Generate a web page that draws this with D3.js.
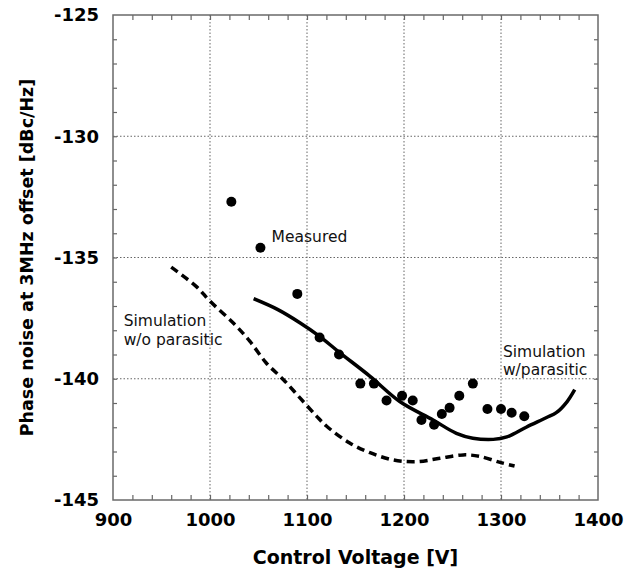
<!DOCTYPE html>
<html>
<head>
<meta charset="utf-8">
<script src="https://cdn.jsdelivr.net/npm/d3@7"></script>
<style>
body { margin: 0; background: #fff; }
</style>
</head>
<body>
<script>
var w = 626;
var h = 571;
var margin = {left: 113, top: 15, right: 28, bottom: 71};

var xTicks = [900, 1000, 1100, 1200, 1300, 1400];
var yTicks = [-125, -130, -135, -140, -145];

var measuredV = [1022, 1052, 1090, 1113, 1133, 1155, 1169, 1182, 1198, 1209, 1218, 1231, 1239, 1247, 1257, 1271, 1286, 1300, 1311, 1324];
var measuredN = [-132.7, -134.6, -136.5, -138.3, -139.0, -140.2, -140.2, -140.9, -140.7, -140.9, -141.7, -141.9, -141.45, -141.2, -140.7, -140.2, -141.25, -141.25, -141.4, -141.55];

var simParV = [1045, 1070, 1093, 1113, 1133, 1165, 1196, 1230, 1254, 1271, 1292, 1306, 1326, 1347, 1357, 1368, 1376];
var simParN = [-136.7, -137.15, -137.7, -138.25, -138.9, -139.9, -140.95, -141.7, -142.25, -142.45, -142.5, -142.4, -142.0, -141.6, -141.4, -140.95, -140.45];

var simNoParV = [960, 986, 1000, 1024, 1041, 1058, 1076, 1093, 1110, 1120, 1144, 1165, 1189, 1213, 1237, 1261, 1278, 1299, 1314];
var simNoParN = [-135.4, -136.2, -136.8, -137.7, -138.45, -139.35, -140.05, -140.8, -141.55, -141.95, -142.65, -143.05, -143.35, -143.42, -143.28, -143.14, -143.2, -143.45, -143.6];

var pw = w - margin.left - margin.right;
var ph = h - margin.top - margin.bottom;
var font = "DejaVu Sans, Verdana, sans-serif";

var svg = d3.select("body")
            .append("svg")
                .attr("width", w)
                .attr("height", h);

var g = svg.append("g")
    .attr("transform", "translate(" + margin.left + "," + margin.top + ")");

var x = d3.scaleLinear().domain([900, 1400]).range([0, pw]);
var y = d3.scaleLinear().domain([-145, -125]).range([ph, 0]);

// grid
g.selectAll("line.vgrid")
    .data(xTicks.slice(1, -1))
    .enter()
    .append("line")
        .attr("x1", function(d) {return x(d);})
        .attr("x2", function(d) {return x(d);})
        .attr("y1", 0)
        .attr("y2", ph)
        .attr("stroke", "#666")
        .attr("stroke-width", 1)
        .attr("stroke-dasharray", "1.5,2");

g.selectAll("line.hgrid")
    .data(yTicks.slice(1, -1))
    .enter()
    .append("line")
        .attr("x1", 0)
        .attr("x2", pw)
        .attr("y1", function(d) {return y(d);})
        .attr("y2", function(d) {return y(d);})
        .attr("stroke", "#666")
        .attr("stroke-width", 1)
        .attr("stroke-dasharray", "1.5,2");

// minor ticks on all four sides
var xMinor = d3.range(920, 1400, 20);
var yMinor = d3.range(-144, -125, 1);

function styleAxis(sel) {
    sel.select(".domain").remove();
    sel.selectAll(".tick line").attr("stroke", "#666").attr("stroke-width", 1.2);
    sel.selectAll(".tick text").remove();
}

g.append("g").attr("transform", "translate(0," + ph + ")")
    .call(d3.axisTop(x).tickValues(xMinor).tickSize(5)).call(styleAxis);
g.append("g")
    .call(d3.axisBottom(x).tickValues(xMinor).tickSize(5)).call(styleAxis);
g.append("g")
    .call(d3.axisRight(y).tickValues(yMinor).tickSize(4)).call(styleAxis);
g.append("g").attr("transform", "translate(" + pw + ",0)")
    .call(d3.axisLeft(y).tickValues(yMinor).tickSize(4)).call(styleAxis);

// frame
g.append("rect")
    .attr("x", 0).attr("y", 0)
    .attr("width", pw).attr("height", ph)
    .attr("fill", "none")
    .attr("stroke", "#6a6a6a")
    .attr("stroke-width", 1.5);

// tick labels (plain hyphen for minus, like the original)
var fmt = function(d) {return String(d);};

var xAxis = g.append("g").attr("transform", "translate(0," + ph + ")")
    .call(d3.axisBottom(x).tickValues(xTicks).tickSize(0).tickPadding(13).tickFormat(fmt));
xAxis.select(".domain").remove();
xAxis.selectAll("text")
    .attr("font-family", font)
    .attr("font-weight", "bold")
    .attr("font-size", 18)
    .attr("fill", "#000");

var yAxis = g.append("g")
    .call(d3.axisLeft(y).tickValues(yTicks).tickSize(0).tickPadding(14).tickFormat(fmt));
yAxis.select(".domain").remove();
yAxis.selectAll("text")
    .attr("font-family", font)
    .attr("font-weight", "bold")
    .attr("font-size", 18)
    .attr("fill", "#000");

// axis titles
svg.append("text")
    .text("Control Voltage [V]")
    .attr("x", margin.left + pw / 2)
    .attr("y", 564)
    .attr("text-anchor", "middle")
    .attr("font-family", font)
    .attr("font-weight", "bold")
    .attr("font-size", 19);

svg.append("text")
    .text("Phase noise at 3MHz offset [dBc/Hz]")
    .attr("transform", "translate(33," + (margin.top + ph / 2) + ") rotate(-90)")
    .attr("text-anchor", "middle")
    .attr("font-family", font)
    .attr("font-weight", "bold")
    .attr("font-size", 17.5);

// lines
var line = d3.line()
    .x(function(d) {return x(d[0]);})
    .y(function(d) {return y(d[1]);})
    .curve(d3.curveCatmullRom);

g.append("path")
    .datum(d3.zip(simParV, simParN))
    .attr("d", line)
    .attr("fill", "none")
    .attr("stroke", "#000")
    .attr("stroke-width", 3.5);

g.append("path")
    .datum(d3.zip(simNoParV, simNoParN))
    .attr("d", line)
    .attr("fill", "none")
    .attr("stroke", "#000")
    .attr("stroke-width", 3.5)
    .attr("stroke-dasharray", "8,5");

// measured points
g.selectAll("circle")
    .data(d3.zip(measuredV, measuredN))
    .enter()
    .append("circle")
        .attr("cx", function(d) {return x(d[0]);})
        .attr("cy", function(d) {return y(d[1]);})
        .attr("r", 5)
        .attr("fill", "#000");

// annotations
var notes = [
    {t: "Measured", v: 1063.5, n: -134.35},
    {t: "Simulation", v: 911, n: -137.82},
    {t: "w/o parasitic", v: 911, n: -138.6},
    {t: "Simulation", v: 1302, n: -139.09},
    {t: "w/parasitic", v: 1302, n: -139.85}
];
g.selectAll("text.note")
    .data(notes)
    .enter()
    .append("text")
    .text(function(d) {return d.t;})
        .attr("x", function(d) {return x(d.v);})
        .attr("y", function(d) {return y(d.n);})
        .attr("font-family", font)
        .attr("font-size", 15.5)
        .attr("fill", "#111");
</script>
</body>
</html>
